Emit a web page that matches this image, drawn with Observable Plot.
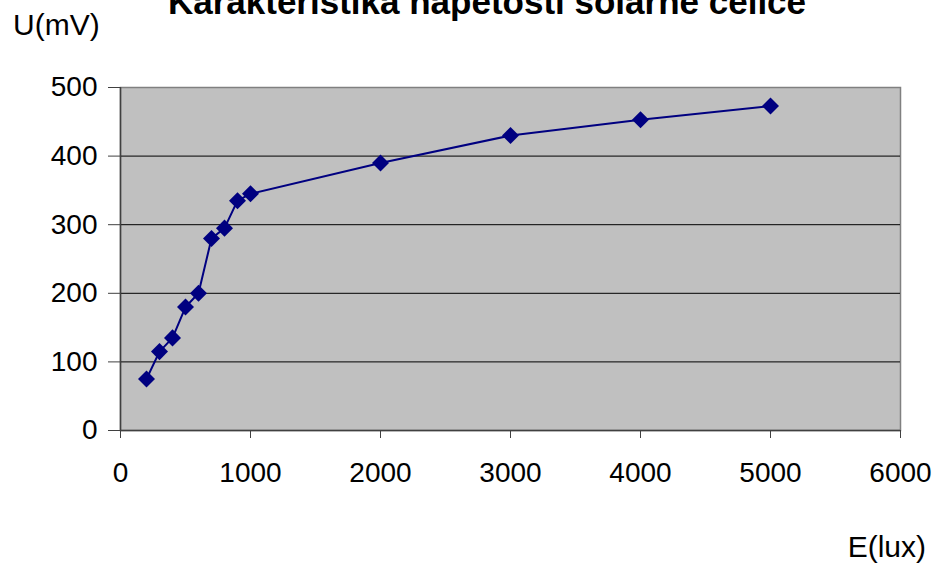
<!DOCTYPE html>
<html>
<head>
<meta charset="utf-8">
<script src="https://cdn.jsdelivr.net/npm/d3@7"></script>
<script src="https://cdn.jsdelivr.net/npm/@observablehq/plot@0.6"></script>
<style>
  html, body { margin: 0; padding: 0; background: #fff; }
  #chart { width: 939px; height: 566px; }
</style>
</head>
<body>
<div id="chart"></div>
<script>
const illuminance = [200, 300, 400, 500, 600, 700, 800, 900, 1000, 2000, 3000, 4000, 5000];
const voltage = [75, 115, 135, 180, 200, 280, 295, 335, 345, 390, 430, 453, 473];
const xTicks = [0, 1000, 2000, 3000, 4000, 5000, 6000];
const yTicks = [0, 100, 200, 300, 400, 500];
const gridValues = [100, 200, 300, 400];
const titleText = "Karakteristika napetosti solarne celice";
const yLabel = "U(mV)";
const xLabel = "E(lux)";

const data = illuminance.map((e, i) => ({E: e, U: voltage[i]}));

const chart = Plot.plot({
  width: 939,
  height: 566,
  marginLeft: 120,
  marginRight: 39,
  marginTop: 87,
  marginBottom: 136,
  style: {fontFamily: "'Liberation Sans', Arial, sans-serif", fontSize: "28px", color: "#000", background: "#fff"},
  x: {domain: [0, 6000], ticks: xTicks, label: null},
  y: {domain: [0, 500], ticks: yTicks, label: null},
  marks: [
    Plot.frame({fill: "#c0c0c0", stroke: "#808080", strokeWidth: 1.5}),
    Plot.ruleY(gridValues, {stroke: "#000", strokeWidth: 1}),
    Plot.ruleX([0], {stroke: "#404040", strokeWidth: 1.5}),
    Plot.ruleY([0], {stroke: "#404040", strokeWidth: 1.5}),
    Plot.axisY({ticks: yTicks, tickSize: 12, tickPadding: 11, stroke: "#404040", fill: "#000", tickFormat: d => String(d), fontSize: 28}),
    Plot.axisX({ticks: xTicks, tickSize: 8, tickPadding: 24, stroke: "#404040", fill: "#000", tickFormat: d => String(d), fontSize: 28}),
    Plot.line(data, {x: "E", y: "U", stroke: "#000080", strokeWidth: 2}),
    Plot.dot(data, {x: "E", y: "U", symbol: "square", rotate: 45, r: 6.8, fill: "#000080", stroke: "none"})
  ]
});

const svg = d3.select(chart);
svg.append("text")
  .attr("x", 487).attr("y", 14)
  .attr("text-anchor", "middle")
  .attr("font-weight", "bold")
  .attr("font-size", 35)
  .attr("font-family", "'Liberation Sans', Arial, sans-serif")
  .attr("fill", "#000")
  .text(titleText);
svg.append("text")
  .attr("x", 13).attr("y", 35)
  .attr("text-anchor", "start")
  .attr("font-size", 30)
  .attr("font-family", "'Liberation Sans', Arial, sans-serif")
  .attr("fill", "#000")
  .text(yLabel);
svg.append("text")
  .attr("x", 926).attr("y", 557)
  .attr("text-anchor", "end")
  .attr("font-size", 30)
  .attr("font-family", "'Liberation Sans', Arial, sans-serif")
  .attr("fill", "#000")
  .text(xLabel);

document.getElementById("chart").appendChild(chart);
</script>
</body>
</html>
